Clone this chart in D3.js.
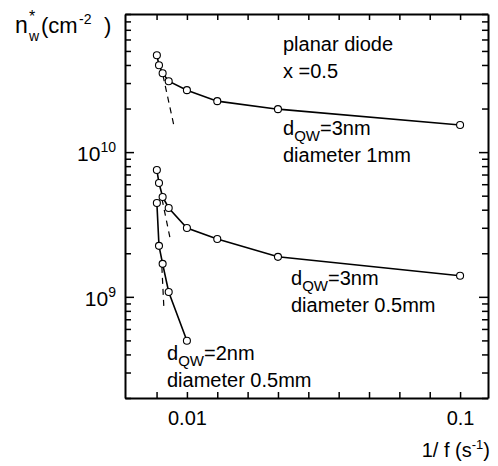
<!DOCTYPE html>
<html>
<head>
<meta charset="utf-8">
<script src="https://cdn.jsdelivr.net/npm/d3@7"></script>
<style>
	body { margin: 0; background: #fff; }
	text { font-family: "Liberation Sans", Arial, sans-serif; fill: #000; }
</style>
</head>
<body>
<svg id="chart" width="498" height="466"></svg>
<script>
"use strict";

// 1/f values (s) shared by the series
var inv_f = [0.0001, 0.0008, 0.002, 0.004, 0.01, 0.02, 0.04, 0.1];

// n*_w (cm^-2)
var nw_3nm_1mm = [4.67e10, 3.98e10, 3.51e10, 3.09e10, 2.68e10, 2.25e10, 1.98e10, 1.54e10];
var nw_3nm_05mm = [7.52e9, 6.11e9, 4.9e9, 4.11e9, 2.99e9, 2.51e9, 1.89e9, 1.4e9];
var nw_2nm_05mm = [4.45e9, 2.25e9, 1.69e9, 1.08e9, 4.97e8];

// dashed extrapolations [x0, x1], [y0, y1]
var dash_3nm_1mm_x = [0.0021, 0.0057], dash_3nm_1mm_y = [3.4e10, 1.53e10];
var dash_3nm_05mm_x = [0.0018, 0.0047], dash_3nm_05mm_y = [4.74e9, 2.39e9];
var dash_2nm_05mm_x = [0.00175, 0.0024], dash_2nm_05mm_y = [1.61e9, 8.5e8];

var x_ticks = [0, 0.01, 0.02, 0.03, 0.04, 0.05, 0.06, 0.07, 0.08, 0.09, 0.1];
var x_labels = { "0.01": "0.01", "0.1": "0.1" };
var y_ticks = [];
[1e8, 1e9, 1e10].forEach(function(d) {
	for (var k = 1; k <= 9; k++) y_ticks.push(k * d);
});
y_ticks = y_ticks.filter(function(v) { return v >= 2e8 && v <= 9e10; });

var plot_left = 125, plot_right = 488, plot_top = 14, plot_bottom = 398;

var svg = d3.select("#chart");

var x = d3.scaleLinear().domain([-0.0104, 0.1092]).range([plot_left, plot_right]);
var y = d3.scaleLog().domain([2e8, 9e10]).range([plot_bottom, plot_top]);

function isMajor(v) { return Math.abs(Math.log10(v) - Math.round(Math.log10(v))) < 1e-6; }

// axes, ticks pointing inward
var gb = svg.append("g").attr("transform", "translate(0," + plot_bottom + ")")
	.call(d3.axisBottom(x).tickValues(x_ticks).tickSize(-6).tickSizeOuter(0).tickPadding(13)
		.tickFormat(function(d) { return x_labels[+d.toFixed(2)] || ""; }));
var gt = svg.append("g").attr("transform", "translate(0," + plot_top + ")")
	.call(d3.axisTop(x).tickValues(x_ticks).tickSize(-6).tickSizeOuter(0).tickFormat(""));
var gl = svg.append("g").attr("transform", "translate(" + plot_left + ",0)")
	.call(d3.axisLeft(y).tickValues(y_ticks).tickSize(-6).tickSizeOuter(0).tickFormat(""));
var gr = svg.append("g").attr("transform", "translate(" + plot_right + ",0)")
	.call(d3.axisRight(y).tickValues(y_ticks).tickSize(-6).tickSizeOuter(0).tickFormat(""));

gl.selectAll(".tick line").filter(isMajor).attr("x2", 9);
gr.selectAll(".tick line").filter(isMajor).attr("x2", -9);

svg.selectAll(".domain").attr("stroke", "#000").attr("stroke-width", 2);
svg.selectAll(".tick line").attr("stroke", "#000").attr("stroke-width", 1.5);
gb.selectAll(".tick text").style("font-size", "20px").style("font-family", "Liberation Sans, Arial, sans-serif").attr("fill", "#000");

// y decade labels
[[1e10, "10"], [1e9, "9"]].forEach(function(d) {
	var t = svg.append("text").attr("x", 116).attr("y", y(d[0]) + 9)
		.attr("text-anchor", "end").style("font-size", "21px");
	t.append("tspan").text("10");
	t.append("tspan").attr("dy", -9).style("font-size", "14px").text(d[1]);
});

// series
var line = d3.line().x(function(d) { return x(d[0]); }).y(function(d) { return y(d[1]); });

function series(vals) {
	var pts = vals.map(function(v, i) { return [inv_f[i], v]; });
	svg.append("path").datum(pts).attr("d", line)
		.attr("fill", "none").attr("stroke", "#000").attr("stroke-width", 1.6);
	svg.selectAll(null).data(pts).enter().append("circle")
		.attr("cx", function(d) { return x(d[0]); })
		.attr("cy", function(d) { return y(d[1]); })
		.attr("r", 3.5).attr("fill", "#fff").attr("stroke", "#000").attr("stroke-width", 1.1);
}

function dashed(xs, ys) {
	var pts = xs.map(function(v, i) { return [v, ys[i]]; });
	svg.append("path").datum(pts).attr("d", line)
		.attr("fill", "none").attr("stroke", "#000").attr("stroke-width", 1.2)
		.attr("stroke-dasharray", "6,5");
}

dashed(dash_3nm_1mm_x, dash_3nm_1mm_y);
dashed(dash_3nm_05mm_x, dash_3nm_05mm_y);
dashed(dash_2nm_05mm_x, dash_2nm_05mm_y);
series(nw_3nm_1mm);
series(nw_3nm_05mm);
series(nw_2nm_05mm);

// labels
function label(xp, yp, dqw, diam) {
	var t = svg.append("text").attr("x", xp).attr("y", yp).style("font-size", "20px");
	t.append("tspan").text("d");
	t.append("tspan").attr("dy", 6).style("font-size", "15px").text("QW");
	t.append("tspan").attr("dy", -6).text("=" + dqw);
	svg.append("text").attr("x", xp).attr("y", yp + 27).style("font-size", "20px").text(diam);
}
label(283, 135, "3nm", "diameter 1mm");
label(291, 285, "3nm", "diameter 0.5mm");
label(167, 360, "2nm", "diameter 0.5mm");

svg.append("text").attr("x", 283).attr("y", 51).style("font-size", "20px").text("planar diode");
svg.append("text").attr("x", 283).attr("y", 78).style("font-size", "20px").text("x =0.5");

// y axis title
var yt = svg.append("g");
yt.append("text").attr("x", 15).attr("y", 33).style("font-size", "23px").text("n");
yt.append("text").attr("x", 29).attr("y", 22).style("font-size", "16px").text("*");
yt.append("text").attr("x", 29).attr("y", 41).style("font-size", "14px").text("w");
yt.append("text").attr("x", 41).attr("y", 33).style("font-size", "22px").text("(cm");
yt.append("text").attr("x", 79).attr("y", 24).style("font-size", "14px").text("-2");
yt.append("text").attr("x", 104).attr("y", 33).style("font-size", "22px").text(")");

// x axis title
var xt = svg.append("text").attr("x", 490).attr("y", 457).attr("text-anchor", "end").style("font-size", "20px");
xt.append("tspan").text("1/ f (s");
xt.append("tspan").attr("dy", -8).style("font-size", "13px").text("-1");
xt.append("tspan").attr("dy", 8).text(")");
</script>
</body>
</html>
